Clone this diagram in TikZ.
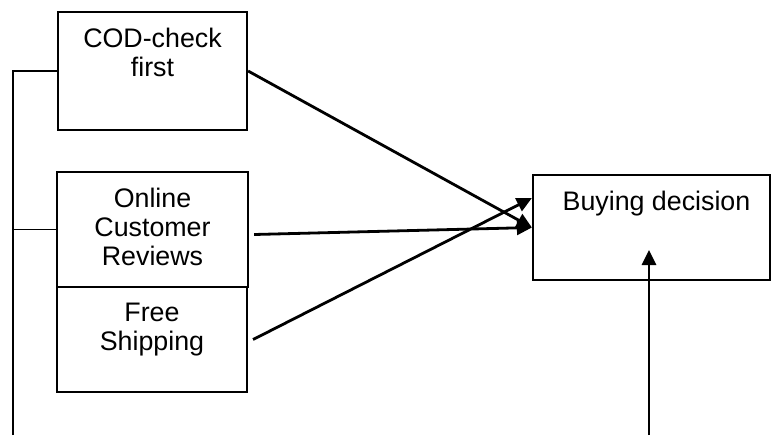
\documentclass[tikz,border=0pt]{standalone}
\usepackage{fontspec}
\setmainfont{Liberation Sans}
\usetikzlibrary{arrows.meta}

\tikzset{
    factor/.style={draw, line width=1.1pt, inner sep=0pt},
    caption/.style={anchor=north, align=center, inner sep=0pt, yshift=-8.5pt,
        font=\fontsize{13.4}{14.5}\selectfont},
    link/.style={line width=0.75pt},
    effect/.style={-{Triangle[length=7.5pt,width=7pt]}, line width=1.4pt},
}

\begin{document}
\begin{tikzpicture}[x=0.5pt, y=-0.5pt]
    \useasboundingbox (0,0) rectangle (771,435);

    % Factors on the left
    \node[factor, minimum width=94.5pt, minimum height=59pt] (cod) at (152.5,71) {};
    \node[caption] (codtext) at (cod.north) {COD-check\\first};
    \node[factor, minimum width=95.5pt, minimum height=57.5pt] (reviews) at (152.5,229.5) {};
    \node[caption] (reviewstext) at (reviews.north) {Online\\Customer\\Reviews};
    \node[factor, minimum width=95pt, minimum height=52.5pt] (shipping) at (152,339.5) {};
    \node[caption] (shippingtext) at (shipping.north) {Free\\Shipping};

    % Outcome
    \node[factor, minimum width=118.5pt, minimum height=52.5pt] (decision) at (651.5,227.5) {};
    \node[caption, xshift=2.5pt] (decisiontext) at (decision.north) {Buying decision};

    % Bracket joining the factors
    \coordinate (spine) at (13,435);
    \draw[link] (spine) |- (cod.west);
    \draw[link] (spine |- reviews.west) -- (reviews.west);

    % Arrows into the decision
    \draw[effect] (cod.east) -- (decision.west);
    \draw[effect] ([xshift=2.5pt,yshift=-2.5pt]reviews.east) -- (decision.west);
    \draw[effect] ([xshift=2.5pt]shipping.east) -- ([yshift=14.75pt]decision.west);

    % Arrow from below
    \coordinate (foot) at (649,435);
    \coordinate (tip) at (649,250);
    \draw[effect] (foot) -- (tip);
\end{tikzpicture}
\end{document}
